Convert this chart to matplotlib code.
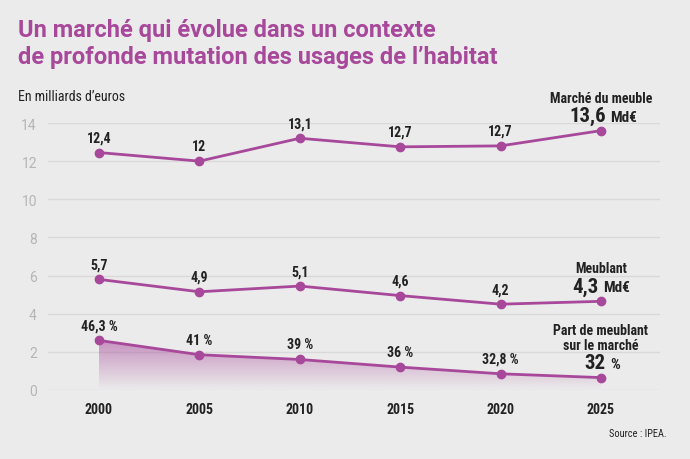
import numpy as np
import matplotlib
matplotlib.use("Agg")
from matplotlib import pyplot as plt
from matplotlib import font_manager
from matplotlib.colors import to_rgb

installed = {f.name for f in font_manager.fontManager.ttflist}
narrow = "Roboto"
for name in ["Roboto Condensed", "Liberation Sans Narrow", "Roboto"]:
    if name in installed:
        narrow = name
        break

years = [2000, 2005, 2010, 2015, 2020, 2025]
marche = [12.45, 12.0, 13.2, 12.75, 12.8, 13.6]
meublant = [5.8, 5.15, 5.45, 4.95, 4.5, 4.65]
part = [2.6, 1.85, 1.6, 1.2, 0.85, 0.65]

marche_labels = ["12,4", "12", "13,1", "12,7", "12,7"]
meublant_labels = ["5,7", "4,9", "5,1", "4,6", "4,2"]
part_labels = ["46,3 %", "41 %", "39 %", "36 %", "32,8 %"]

yticks = [0, 2, 4, 6, 8, 10, 12, 14]

bg = "#ebebeb"
purple = "#a8489b"
dark = "#222222"

fig = plt.figure(figsize=(6.9, 4.6), dpi=100, facecolor=bg)
ax = fig.add_axes([48 / 690, 1 - 391 / 460, 612 / 690, 267 / 460])
ax.set_facecolor(bg)
ax.set_xlim(1997.46, 2027.94)
ax.set_ylim(0, 14)
for s in ax.spines.values():
    s.set_visible(False)
ax.set_yticks(yticks)
ax.set_yticklabels([str(v) for v in yticks], color="#b5b5b5", fontsize=10,
                   family="Roboto")
ax.set_xticks(years)
ax.set_xticklabels([str(y) for y in years], color=dark, fontsize=10,
                   fontweight="bold", family=narrow)
ax.tick_params(length=0)
ax.tick_params(axis="y", pad=8)
ax.tick_params(axis="x", pad=9)
ax.grid(axis="y", color="#d9d9d9", linewidth=1)
ax.set_axisbelow(True)

# gradient under the share line
poly = ax.fill_between(years, part, 0, color="none", linewidth=0)
r, g, b = to_rgb(purple)
grad = np.zeros((100, 2, 4))
grad[..., 0], grad[..., 1], grad[..., 2] = r, g, b
grad[..., 3] = np.linspace(0.55, 0.0, 100)[:, None]
im = ax.imshow(grad, extent=[years[0], years[-1], 0, max(part)],
               aspect="auto", origin="upper", zorder=1)
im.set_clip_path(poly.get_paths()[0], transform=ax.transData)

for serie, labels in [(marche, marche_labels), (meublant, meublant_labels),
                      (part, part_labels)]:
    ax.plot(years, serie, color=purple, linewidth=2, marker="o",
            markersize=6, zorder=3, clip_on=False)
    for x, y, lab in zip(years, serie, labels):
        ax.annotate(lab, (x, y), xytext=(0, 8), textcoords="offset pixels",
                    ha="center", va="bottom", fontsize=10, fontweight="bold",
                    color=dark, family=narrow)

# end annotations
def end_note(y, lines, big, unit, big_dx):
    for i, line in enumerate(lines):
        ax.annotate(line, (years[-1], y), xytext=(0, 33 + 15 * (len(lines) - 1 - i)),
                    textcoords="offset pixels", ha="center", va="center",
                    fontsize=10, fontweight="bold", color=dark, family=narrow)
    ax.annotate(big, (years[-1], y), xytext=(big_dx, 15),
                textcoords="offset pixels", ha="right", va="center",
                fontsize=15, fontweight="bold", color=dark, family=narrow)
    ax.annotate(unit, (years[-1], y), xytext=(big_dx + 4, 14),
                textcoords="offset pixels", ha="left", va="center",
                fontsize=11, fontweight="bold", color=dark, family=narrow)

end_note(marche[-1], ["Marché du meuble"], "13,6", "Md€", 5)
end_note(meublant[-1], ["Meublant"], "4,3", "Md€", -2)
end_note(part[-1], ["Part de meublant", "sur le marché"], "32", "%", 5)

fig.text(18 / 690, 1 - 31 / 460, "Un marché qui évolue dans un contexte",
         color=purple, fontsize=17, fontweight="bold", family="Roboto",
         va="center", ha="left")
fig.text(18 / 690, 1 - 58 / 460, "de profonde mutation des usages de l’habitat",
         color=purple, fontsize=17, fontweight="bold", family="Roboto",
         va="center", ha="left")
fig.text(18 / 690, 1 - 97 / 460, "En milliards d’euros", color=dark,
         fontsize=10, family=narrow, va="center", ha="left")
fig.text(667 / 690, 1 - 434 / 460, "Source : IPEA.", color=dark,
         fontsize=7.5, family=narrow, va="center", ha="right")

fig.savefig("out.png", dpi=100, facecolor=bg)
